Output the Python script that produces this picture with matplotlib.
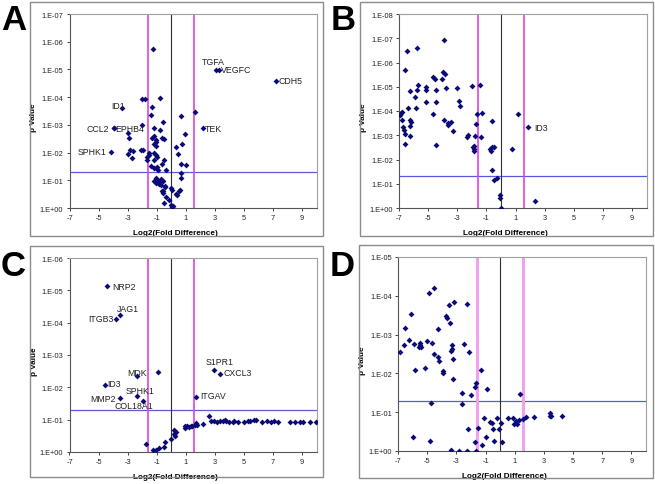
import numpy as np
import matplotlib
matplotlib.use("Agg")
import matplotlib.pyplot as plt
from matplotlib.patches import Rectangle

plt.rcParams['font.family'] = ['Liberation Sans', 'DejaVu Sans']

# ---------------- data: x = log2(fold difference), y = -log10(p value) ----------------
# Panel A
a_x = [-1.27, -2.0, -1.84, -0.78, -1.36, 1.6, -1.4, 0.66, -0.55, -2.0, -1.22, -0.81, 0.94,
       -3.0, -2.9, -1.17, -1.36, -1.05, -1.08, -1.22, -1.02, -0.65, -0.53, 0.75, 0.34, 0.43,
       -2.85, -2.62, -2.95, -2.72, -2.06, -1.97, -1.5, -1.55, -1.65, -1.65, -1.17, -1.08, -0.99,
       -1.2, -0.52, -0.64, -1.37, -1.2, -1.06, -0.94, -1.01, -0.37, 0.66, 0.98, 0.70, 0.66,
       -1.06, -0.92, -0.76, -0.99, -0.71, -0.55, -1.08, -0.85, -1.17, -0.73, -0.41, -0.55, -0.60,
       -0.62, -0.34, -0.46, -0.05, 0.04, -0.19, -0.05, 0.09, 0.02, 0.41, 0.50, 0.57, 0.34, -0.49]
a_y = [5.74, 3.95, 3.92, 3.97, 3.64, 3.47, 3.34, 3.31, 3.09, 2.99, 2.89, 2.81, 2.66,
       2.72, 2.51, 2.58, 2.51, 2.45, 2.37, 2.32, 2.22, 2.51, 2.50, 2.31, 2.19, 1.96,
       2.10, 2.04, 1.94, 1.82, 2.09, 2.09, 2.00, 1.93, 1.83, 1.73, 1.99, 1.93, 1.84,
       1.73, 1.73, 1.58, 1.52, 1.45, 1.43, 1.37, 1.49, 1.36, 1.58, 1.54, 1.25, 1.10,
       1.08, 0.98, 0.94, 0.93, 1.03, 0.97, 0.91, 0.88, 0.99, 0.84, 0.74, 0.63, 0.55,
       0.60, 0.39, 0.80, 0.72, 0.66, 0.28, 0.12, 0.07, 0.02, 0.48, 0.60, 0.65, 0.51, 0.19]
a_genes = ['TGFA', 'VEGFC', 'CDH5', 'ID1', 'CCL2', 'EPHB4', 'TEK', 'SPHK1']
a_gx = [3.05, 3.27, 7.2, -3.4, -3.97, -3.93, 2.17, -4.16]
a_gy = [4.99, 4.99, 4.6, 3.6, 2.87, 2.87, 2.87, 2.03]

# Panel B
b_x = [-3.89, -6.45, -5.79, -6.57, -3.98, -3.84, -4.64, -4.53, -4.03, -5.70, -6.24, -5.17,
       -5.17, -4.44, -3.75, -3.04, -5.79, -2.01, -1.46, -5.92, -2.90, -2.79, -5.17, -4.48,
       -6.36, -5.86, -6.84, -6.77, -6.90, -4.64, -3.89, -3.61, -3.66, -3.45, -6.27, -6.18,
       -6.22, -6.79, -6.75, -6.63, -6.57, -6.27, -6.59, -4.46, -3.27, -1.65, -1.30, -1.74,
       -0.62, -2.35, -2.24, -1.76, -1.39, -1.92, -1.88, -1.84, -1.86, -0.73, -0.64, -0.50,
       -0.68, 0.78, 1.19, -0.59, -0.46, -0.30, -0.09, -0.09, 0.02, 2.34]
b_y = [6.91, 6.46, 6.60, 5.69, 5.61, 5.53, 5.40, 5.31, 5.31, 5.07, 4.82, 4.99,
       4.87, 4.85, 4.93, 4.93, 4.88, 5.04, 5.09, 4.56, 4.40, 4.20, 4.36, 4.36,
       4.12, 4.12, 3.90, 3.97, 3.83, 3.86, 3.61, 3.44, 3.49, 3.55, 3.63, 3.55,
       3.38, 3.64, 3.35, 3.22, 3.05, 2.98, 2.63, 2.61, 3.19, 3.86, 3.92, 3.45,
       3.60, 2.91, 3.00, 2.98, 2.94, 2.52, 2.45, 2.56, 2.35, 2.42, 2.50, 2.53,
       2.35, 2.45, 3.88, 1.55, 1.17, 1.24, 0.55, 0.41, 0.01, 0.27]
b_genes = ['ID3']
b_gx = [1.86]
b_gy = [3.34]

# Panel C
c_x = [-0.90, 2.60, -1.75, -1.22, -1.04, -0.83, -0.51, -0.44, -0.04, 0.16, 0.20, 0.34, 0.25,
       0.92, 0.94, 1.10, 1.24, 1.33, 1.45, 1.65, 1.70, 1.74, 1.79, 2.20, 2.76, 2.94, 3.15,
       3.36, 3.59, 3.73, 3.80, 3.96, 4.24, 4.33, 4.58, 5.02, 5.27, 5.43, 5.68, 5.84, 6.26,
       6.56, 6.86, 7.07, 7.32, 8.17, 8.49, 8.88, 9.09, 9.53, 9.97]
c_y = [2.46, 1.12, 0.24, 0.05, 0.07, 0.11, 0.16, 0.32, 0.40, 0.57, 0.67, 0.62, 0.51,
       0.73, 0.81, 0.79, 0.76, 0.79, 0.81, 0.85, 0.87, 0.90, 0.83, 0.87, 0.95, 0.95, 0.94,
       0.95, 0.96, 0.98, 0.95, 0.92, 0.92, 0.95, 0.94, 0.94, 0.95, 0.96, 0.98, 0.99, 0.94,
       0.95, 0.94, 0.95, 0.94, 0.94, 0.94, 0.94, 0.94, 0.94, 0.92]
c_genes = ['NRP2', 'JAG1', 'ITGB3', 'MDK', 'ID3', 'SPHK1', 'MMP2', 'COL18A1', 'S1PR1', 'CXCL3', 'ITGAV']
c_gx = [-4.40, -3.50, -3.80, -2.33, -4.58, -2.33, -3.50, -1.96, 2.97, 3.36, 1.72]
c_gy = [5.13, 4.24, 4.12, 2.34, 2.08, 1.74, 1.67, 1.57, 2.55, 2.42, 1.69]

# Panel D
d_x = [-4.51, -4.88, -3.18, -3.48, -2.30, -6.10, -3.71, -3.64, -3.43, -6.52, -4.26, -6.26,
       -5.02, -6.59, -5.87, -5.50, -5.46, -5.55, -5.41, -4.68, -3.32, -2.51, -3.32, -3.39,
       -4.51, -6.84, -2.14, -4.26, -4.21, -3.22, -5.85, -5.14, -3.89, -3.94, -3.22, -1.29,
       -1.64, -1.69, -2.60, -1.98, -0.88, 1.38, -4.77, -2.60,
       -1.11, -0.72, -0.58, -0.21, 0.07, 0.55, 0.85, 0.92, 1.13, 1.08, 1.29, 1.56, 1.79,
       2.32, 3.43, 3.45, 3.52, 4.26, -1.54, -2.19, -0.49, -0.07, -0.95, -0.39, 0.16, -1.73,
       -1.27, -5.99, -4.84, -3.36, -2.81, -2.24, -1.68]
d_y = [4.20, 4.08, 3.84, 3.77, 3.79, 3.54, 3.49, 3.44, 3.31, 3.16, 3.15, 2.85,
       2.84, 2.73, 2.75, 2.78, 2.73, 2.67, 2.69, 2.78, 2.73, 2.75, 2.64, 2.58,
       2.51, 2.55, 2.54, 2.41, 2.32, 2.36, 2.10, 2.14, 2.05, 2.02, 1.86, 2.08,
       1.75, 1.64, 1.50, 1.45, 1.59, 1.47, 1.25, 1.22,
       0.84, 0.76, 0.72, 0.84, 0.72, 0.84, 0.86, 0.69, 0.70, 0.78, 0.80, 0.82, 0.87,
       0.87, 0.99, 0.91, 0.91, 0.91, 0.59, 0.56, 0.56, 0.56, 0.37, 0.27, 0.24, 0.22,
       0.15, 0.37, 0.25, 0.03, 0.00, 0.01, 0.00]

panel_letters = ['A', 'B', 'C', 'D']
y_top_decades = [7, 8, 6, 5]
x_ticks = [-7, -5, -3, -1, 1, 3, 5, 7, 9]
p_cutoff = 0.05
fold_cutoff = 3.0

# ---------------- styling / layout ----------------
W, H = 655, 485
fig = plt.figure(figsize=(W / 100, H / 100), dpi=100)

def fx(px):
    return px / W

def fy(py):
    return 1 - py / H

axes_px = [(69.5, 15, 316.7, 209), (399, 15, 646.7, 209),
           (69.5, 259, 316.5, 453), (398, 258, 646, 452)]
frames_px = [(30, 2.5, 323, 237), (360, 2.5, 653, 237),
             (30, 247, 322.5, 478), (359, 246, 653, 479)]
letter_px = [(1, 21), (331, 21), (1, 267), (330, 267)]

navy = '#0A0A78'
magenta_lw = [1.2, 1.2, 1.2, 2.2]
magenta_col = ['#DD44DD', '#DD44DD', '#DD44DD', '#F2A0F0']

# label offsets in pixels (dx, dy, ha)
offsets = {
    0: {'TGFA': (-14, 8, 'left'), 'VEGFC': (2, 0, 'left'), 'CDH5': (3, 0, 'left'),
        'ID1': (3, 3, 'right'), 'CCL2': (-4.5, 0, 'right'), 'EPHB4': (1.5, 0, 'left'),
        'TEK': (2, 0, 'left'), 'SPHK1': (-4.3, 0, 'right')},
    1: {'ID3': (6, 0, 'left')},
    2: {'NRP2': (5, 0, 'left'), 'JAG1': (-3, 6.3, 'left'), 'ITGB3': (-2, 0, 'right'),
        'MDK': (0, 4, 'center'), 'ID3': (2.7, 1.7, 'left'), 'SPHK1': (2.3, 5.7, 'center'),
        'MMP2': (-4.3, 0, 'right'), 'COL18A1': (-8.7, -4, 'center'),
        'S1PR1': (5.3, 8, 'center'), 'CXCL3': (3.3, 1.3, 'left'), 'ITGAV': (4, 2.3, 'left')},
    3: {},
}

datasets = [(a_x, a_y, a_genes, a_gx, a_gy),
            (b_x, b_y, b_genes, b_gx, b_gy),
            (c_x, c_y, c_genes, c_gx, c_gy),
            (d_x, d_y, [], [], [])]

for i in range(4):
    # outer frame
    l, t, r, b = frames_px[i]
    fig.patches.append(Rectangle((fx(l), fy(b)), fx(r) - fx(l), fy(t) - fy(b),
                                 transform=fig.transFigure, fill=False,
                                 edgecolor='#8C8C8C', linewidth=1.0, zorder=0))
    lx, ly = letter_px[i]
    fig.text(fx(lx), fy(ly), panel_letters[i], fontsize=25, fontweight='bold',
             ha='left', va='center', color='black')

    l, t, r, b = axes_px[i]
    ax = fig.add_axes([fx(l), fy(b), fx(r) - fx(l), fy(t) - fy(b)])
    xs, ys, genes, gx, gy = datasets[i]
    top = y_top_decades[i]
    ax.set_xlim(-7, 10)
    ax.set_ylim(0, top)

    thr = -np.log10(p_cutoff)
    fc = np.log2(fold_cutoff)
    ax.axhline(thr, color='#5858E0', lw=0.9, zorder=1)
    ax.axvline(-fc, color=magenta_col[i], lw=magenta_lw[i], zorder=1)
    ax.axvline(fc, color=magenta_col[i], lw=magenta_lw[i], zorder=1)
    ax.axvline(0, color='#303030', lw=0.8, zorder=1)

    ax.scatter(xs, ys, marker='D', s=9, color=navy, linewidths=0, zorder=3)
    if genes:
        ax.scatter(gx, gy, marker='D', s=9, color=navy, linewidths=0, zorder=3)
        for g, x0, y0 in zip(genes, gx, gy):
            dx, dy, ha = offsets[i][g]
            ax.annotate(g, (x0, y0), xytext=(dx * 0.72, dy * 0.72),
                        textcoords='offset points', ha=ha, va='center',
                        fontsize=6.3, color='#222222', zorder=4)

    ax.set_xticks(x_ticks)
    ax.set_xticklabels([str(v) for v in x_ticks])
    ax.set_yticks(range(0, top + 1))
    ax.set_yticklabels(['1.E+00' if k == 0 else '1.E-%02d' % k for k in range(0, top + 1)])
    ax.tick_params(axis='both', direction='out', length=2.5, width=0.6,
                   labelsize=5.3, pad=2, colors='#222222')
    for s in ['left', 'bottom']:
        ax.spines[s].set_color('#555555')
        ax.spines[s].set_linewidth(0.8)
    for s in ['top', 'right']:
        ax.spines[s].set_color('#A0A0A0')
        ax.spines[s].set_linewidth(0.8)

    ax.set_xlabel('Log2(Fold Difference)', fontsize=5.9, fontweight='bold')
    ax.set_ylabel('p Value', fontsize=5.9, fontweight='bold')
    ax.xaxis.set_label_coords(0.43, -21 / (b - t))
    ax.yaxis.set_label_coords(-32 / (r - l), 0.47)

fig.savefig('out.png', dpi=100)
